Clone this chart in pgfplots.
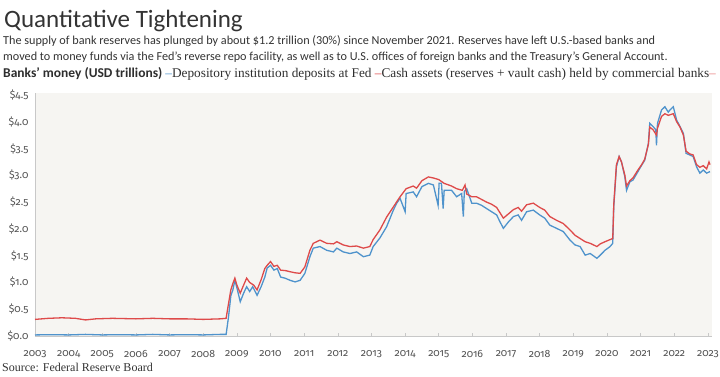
\documentclass[border=0pt]{standalone}
\usepackage{fontspec}
\setmainfont{Carlito}
\newfontfamily\serif{Liberation Serif}
\newfontfamily\tickfont{Fira Sans}[Numbers=OldStyle]
\usepackage{pgfplots}
\pgfplotsset{compat=1.18}
\definecolor{fedblue}{HTML}{4F93CC}
\definecolor{fedred}{HTML}{DE4A4A}
\definecolor{plotbg}{HTML}{F6F5F2}
\definecolor{axisgray}{HTML}{C8C8C8}
\definecolor{txt}{HTML}{333333}

\begin{document}
\begin{tikzpicture}[x=1pt,y=1pt]
\path[use as bounding box] (0,0) rectangle (720,377);
\begin{axis}[
  at={(35pt,41pt)}, anchor=south west,
  scale only axis, width=677pt, height=243pt,
  xmin=2003, xmax=2023.12, ymin=0, ymax=4.537,
  axis background/.style={fill=plotbg},
  axis x line*=bottom, axis y line*=left,
  axis line style={draw=axisgray, line width=0.8pt},
  xtick={2003,2004,...,2023},
  /pgf/number format/1000 sep={},
  ytick={0,0.5,...,4.5},
  yticklabels={\$0.0,\$0.5,\$1.0,\$1.5,\$2.0,\$2.5,\$3.0,\$3.5,\$4.0,\$4.5},
  /pgf/number format/assume math mode=true,
  tick label style={font=\tickfont\fontsize{10.5}{10.5}\selectfont, text=txt!85},
  xticklabel style={yshift=-11pt},
  yticklabel style={xshift=-3pt},
  xtick style={draw=axisgray, line width=0.6pt},
  ytick style={draw=none},
  tick align=inside, major tick length=3pt,
  clip=false,
]
% Depository institution deposits at Fed
\addplot[fedblue, line width=1.3pt] coordinates {
(2003.0,0.02)(2003.5,0.025)(2004.0,0.02)(2004.5,0.03)(2005.0,0.02)(2005.5,0.025)
(2006.0,0.02)(2006.5,0.03)(2007.0,0.02)(2007.5,0.025)(2008.0,0.02)(2008.5,0.03)
(2008.68,0.03)(2008.75,0.35)(2008.82,0.75)(2008.88,0.86)(2008.94,1.04)(2009.0,0.90)
(2009.1,0.64)(2009.2,0.80)(2009.29,0.92)(2009.38,0.83)(2009.47,0.92)(2009.6,0.76)
(2009.72,0.92)(2009.83,1.10)(2009.9,1.27)(2010.0,1.32)(2010.1,1.23)(2010.2,1.26)
(2010.3,1.10)(2010.43,1.08)(2010.58,1.04)(2010.73,1.01)(2010.88,1.04)(2011.02,1.17)
(2011.17,1.48)(2011.27,1.64)(2011.47,1.67)(2011.67,1.60)(2011.87,1.57)(2011.97,1.64)
(2012.16,1.57)(2012.36,1.54)(2012.56,1.57)(2012.76,1.48)(2012.95,1.51)(2013.05,1.67)
(2013.25,1.83)(2013.45,2.04)(2013.65,2.35)(2013.75,2.48)(2013.85,2.57)(2014.0,2.32)
(2014.03,2.66)(2014.24,2.69)(2014.34,2.60)(2014.5,2.79)(2014.69,2.85)(2014.84,2.82)
(2014.98,2.44)(2015.01,2.85)(2015.08,2.85)(2015.13,2.38)(2015.16,2.72)(2015.38,2.72)
(2015.53,2.60)(2015.68,2.66)(2015.73,2.23)(2015.76,2.70)(2015.83,2.75)(2015.98,2.48)
(2016.12,2.48)(2016.27,2.44)(2016.42,2.38)(2016.57,2.32)(2016.72,2.26)(2016.82,2.13)
(2016.92,2.01)(2017.07,2.13)(2017.22,2.23)(2017.36,2.26)(2017.46,2.16)(2017.61,2.32)
(2017.81,2.35)(2018.0,2.26)(2018.15,2.20)(2018.3,2.07)(2018.5,2.01)(2018.7,1.95)
(2018.9,1.79)(2019.05,1.70)(2019.2,1.67)(2019.35,1.51)(2019.5,1.54)(2019.7,1.45)
(2019.8,1.51)(2019.94,1.60)(2020.09,1.67)(2020.17,1.73)(2020.2,2.41)(2020.28,3.16)
(2020.36,3.35)(2020.43,3.25)(2020.53,2.97)(2020.58,2.72)(2020.68,2.88)(2020.77,2.91)
(2020.92,3.07)(2021.03,3.19)(2021.12,3.28)(2021.23,3.60)(2021.27,3.97)(2021.37,3.91)
(2021.45,3.85)(2021.47,3.56)(2021.5,3.97)(2021.62,4.22)(2021.72,4.28)(2021.82,4.18)
(2021.87,4.22)(2021.97,4.28)(2022.07,4.03)(2022.17,3.91)(2022.27,3.78)(2022.35,3.41)
(2022.46,3.38)(2022.56,3.35)(2022.66,3.16)(2022.76,3.04)(2022.86,3.10)(2022.96,3.04)
(2023.06,3.07)
};
% Cash assets held by commercial banks
\addplot[fedred, line width=1.3pt] coordinates {
(2003.0,0.31)(2003.4,0.33)(2003.8,0.34)(2004.2,0.33)(2004.5,0.30)(2004.8,0.32)
(2005.3,0.33)(2006.0,0.32)(2006.5,0.33)(2007.0,0.32)(2007.5,0.32)(2008.0,0.31)
(2008.5,0.32)(2008.68,0.33)(2008.75,0.60)(2008.82,0.86)(2008.88,0.98)(2008.94,1.08)
(2009.0,0.95)(2009.1,0.80)(2009.2,0.95)(2009.29,1.08)(2009.38,1.00)(2009.5,0.95)
(2009.6,0.86)(2009.72,1.05)(2009.83,1.26)(2009.9,1.32)(2010.0,1.39)(2010.1,1.30)
(2010.2,1.32)(2010.3,1.23)(2010.45,1.22)(2010.58,1.20)(2010.73,1.18)(2010.88,1.17)
(2011.02,1.29)(2011.17,1.60)(2011.27,1.73)(2011.47,1.79)(2011.67,1.73)(2011.87,1.72)
(2011.97,1.76)(2012.16,1.70)(2012.36,1.67)(2012.56,1.68)(2012.76,1.64)(2012.95,1.67)
(2013.05,1.80)(2013.25,1.98)(2013.45,2.22)(2013.65,2.41)(2013.85,2.60)(2014.03,2.75)
(2014.24,2.80)(2014.34,2.76)(2014.5,2.90)(2014.69,2.97)(2014.84,2.95)(2015.0,2.92)
(2015.16,2.85)(2015.38,2.80)(2015.53,2.75)(2015.7,2.72)(2015.78,2.82)(2015.83,2.65)
(2015.98,2.60)(2016.12,2.60)(2016.27,2.55)(2016.42,2.50)(2016.57,2.46)(2016.72,2.40)
(2016.82,2.30)(2016.92,2.20)(2017.07,2.28)(2017.22,2.36)(2017.36,2.40)(2017.46,2.33)
(2017.61,2.45)(2017.81,2.48)(2018.0,2.40)(2018.15,2.35)(2018.3,2.23)(2018.5,2.16)
(2018.7,2.10)(2018.9,1.98)(2019.05,1.88)(2019.2,1.82)(2019.35,1.76)(2019.5,1.73)
(2019.7,1.67)(2019.8,1.72)(2019.94,1.76)(2020.09,1.80)(2020.17,1.82)(2020.2,2.45)
(2020.28,3.20)(2020.36,3.35)(2020.43,3.25)(2020.53,3.00)(2020.58,2.80)(2020.68,2.90)
(2020.77,2.95)(2020.92,3.10)(2021.03,3.20)(2021.12,3.30)(2021.23,3.58)(2021.27,3.90)
(2021.37,3.85)(2021.47,3.75)(2021.5,3.88)(2021.62,4.10)(2021.72,4.15)(2021.82,4.12)
(2021.97,4.15)(2022.07,4.00)(2022.17,3.90)(2022.27,3.75)(2022.35,3.45)(2022.46,3.40)
(2022.56,3.38)(2022.66,3.20)(2022.76,3.15)(2022.86,3.18)(2022.96,3.12)(2023.03,3.25)
(2023.06,3.20)
};
\end{axis}
\node[anchor=base west, inner sep=0, text=txt] at (4,349) {\fontsize{25}{25}\selectfont Quantitative Tightening};
\node[anchor=base west, inner sep=0, text=txt] at (3,332) {\fontsize{12.2}{12.2}\selectfont The supply of bank reserves has plunged by about \$1.2 trillion (30\%) since November 2021. Reserves have left U.S.-based banks and};
\node[anchor=base west, inner sep=0, text=txt] at (3,316) {\fontsize{12.2}{12.2}\selectfont moved to money funds via the Fed's reverse repo facility, as well as to U.S. offices of foreign banks and the Treasury's General Account.};
\node[anchor=base west, inner sep=0, text=txt!90!black] at (3,299) {\fontsize{13.5}{13.5}\selectfont\bfseries Banks' money (USD trillions) {\fontsize{13.3}{13.3}\selectfont\serif\mdseries{\color{fedblue}\textendash}Depository institution deposits at Fed {\color{fedred}\textendash}Cash assets (reserves + vault cash) held by commercial banks{\color{fedred!70}\textendash}}};
\node[anchor=base west, inner sep=0, text=txt] at (2,5) {\fontsize{12}{12}\selectfont\serif Source: Federal Reserve Board};
\end{tikzpicture}
\end{document}
